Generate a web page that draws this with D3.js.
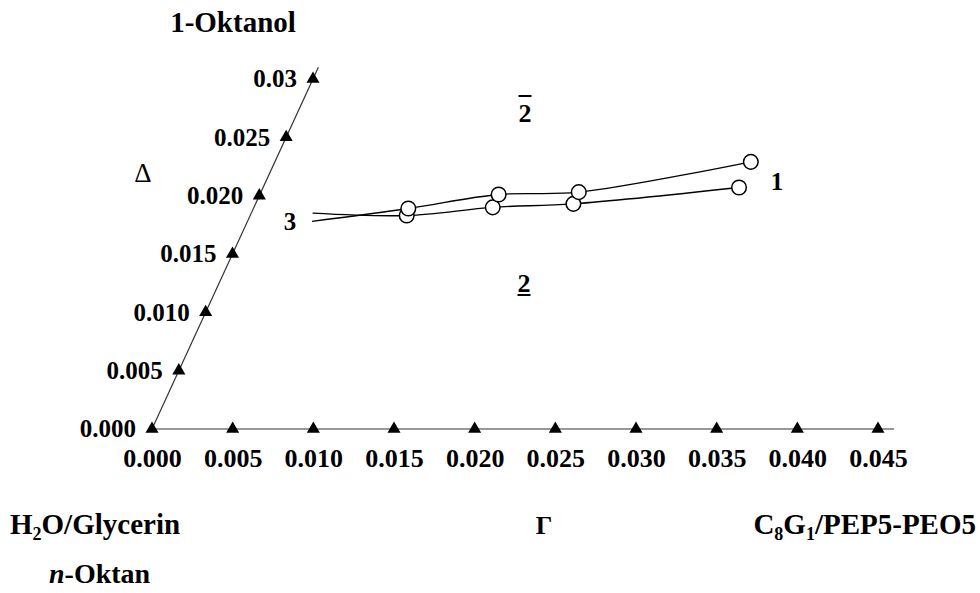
<!DOCTYPE html>
<html>
<head>
<meta charset="utf-8">
<script src="https://cdn.jsdelivr.net/npm/d3@7"></script>
<style>
  html, body { margin: 0; padding: 0; background: #fff; }
  svg text { font-family: "Liberation Serif", "Times New Roman", serif; fill: #000; }
</style>
</head>
<body>
<svg id="chart" width="980" height="593"></svg>
<script>
// Surfactant fraction (Gamma) ticks along the base of the section
const gammaTicks = [0, 0.005, 0.010, 0.015, 0.020, 0.025, 0.030, 0.035, 0.040, 0.045];
const gammaTickLabels = ["0.000", "0.005", "0.010", "0.015", "0.020", "0.025", "0.030", "0.035", "0.040", "0.045"];

// 1-Oktanol fraction (Delta) ticks along the slanted edge
const deltaTicks = [0, 0.005, 0.010, 0.015, 0.020, 0.025, 0.030];
const deltaTickLabels = ["0.000", "0.005", "0.010", "0.015", "0.020", "0.025", "0.03"];

// Upper boundary: measured points and the open end of the curve on the left
const upperGamma = [0.0096, 0.0148, 0.0197, 0.0295];
const upperDelta = [0.0189, 0.0201, 0.0203, 0.0229];
const upperStart = [0.0040, 0.0178];

// Lower boundary
const lowerGamma = [0.0097, 0.0148, 0.0197, 0.0295];
const lowerDelta = [0.0183, 0.0190, 0.0193, 0.0207];
const lowerStart = [0.0038, 0.0185];

const svg = d3.select("#chart");

// Oblique frame: Gamma runs horizontally, Delta runs along a tilted edge.
const x = d3.scaleLinear().domain([0, 0.045]).range([152, 878]);
const y = d3.scaleLinear().domain([0, 0.03]).range([429, 79]);
const skew = d3.scaleLinear().domain([0, 0.03]).range([0, 161]);
const px = (g, d) => x(g) + skew(d);
const py = d => y(d);

const tri = d3.symbol().type(d3.symbolTriangle).size(74);

// Base (Gamma) edge
svg.append("line")
  .attr("x1", px(0, 0)).attr("y1", py(0))
  .attr("x2", px(0.046, 0)).attr("y2", py(0))
  .attr("stroke", "#333").attr("stroke-width", 1.2);

// Slanted (Delta) edge
svg.append("line")
  .attr("x1", px(0, 0)).attr("y1", py(0))
  .attr("x2", px(0, 0.031)).attr("y2", py(0.031))
  .attr("stroke", "#333").attr("stroke-width", 1.2);

// Gamma axis labels from d3.axisBottom, markers as triangles on the edge
const xAxis = d3.axisBottom(x)
  .tickValues(gammaTicks)
  .tickSize(0)
  .tickPadding(0)
  .tickFormat((d, i) => gammaTickLabels[i]);
const gx = svg.append("g").attr("transform", `translate(0, ${py(0)})`).call(xAxis);
gx.select(".domain").remove();
gx.selectAll("text")
  .attr("y", 38).attr("dy", null)
  .style("font-family", "'Liberation Serif', serif")
  .style("font-size", "26px").style("font-weight", "bold").attr("fill", "#000");

svg.append("g").selectAll("path")
  .data(gammaTicks)
  .join("path")
  .attr("d", tri)
  .attr("transform", d => `translate(${px(d, 0)}, ${py(0)})`)
  .attr("fill", "#000");

// Delta axis labels from d3.axisLeft, each tick shifted along the slant
const yAxis = d3.axisLeft(y)
  .tickValues(deltaTicks)
  .tickSize(0)
  .tickPadding(16)
  .tickFormat((d, i) => deltaTickLabels[i]);
const gy = svg.append("g").attr("transform", `translate(${x(0)}, 0)`).call(yAxis);
gy.select(".domain").remove();
gy.selectAll(".tick").attr("transform", d => `translate(${skew(d)}, ${py(d)})`);
gy.selectAll("text")
  .attr("dy", "0.33em")
  .style("font-family", "'Liberation Serif', serif")
  .style("font-size", "25px").style("font-weight", "bold").attr("fill", "#000");

svg.append("g").selectAll("path")
  .data(deltaTicks.slice(1))
  .join("path")
  .attr("d", tri)
  .attr("transform", d => `translate(${px(0, d)}, ${py(d)})`)
  .attr("fill", "#000");

// Phase boundaries
const line = d3.line()
  .x(p => px(p[0], p[1]))
  .y(p => py(p[1]))
  .curve(d3.curveCatmullRom.alpha(0.5));

const upperPts = upperGamma.map((g, i) => [g, upperDelta[i]]);
const lowerPts = lowerGamma.map((g, i) => [g, lowerDelta[i]]);

[[upperStart, ...upperPts], [lowerStart, ...lowerPts]].forEach(pts => {
  svg.append("path")
    .attr("d", line(pts))
    .attr("fill", "none")
    .attr("stroke", "#000")
    .attr("stroke-width", 1.3);
});

svg.append("g").selectAll("circle")
  .data([...lowerPts, ...upperPts])
  .join("circle")
  .attr("cx", p => px(p[0], p[1]))
  .attr("cy", p => py(p[1]))
  .attr("r", 7.3)
  .attr("fill", "#fff")
  .attr("stroke", "#000")
  .attr("stroke-width", 1.5);

// Text helper
function label(txt, xPos, yPos, size, opts = {}) {
  const t = svg.append("text")
    .attr("x", xPos).attr("y", yPos)
    .attr("text-anchor", opts.anchor || "middle")
    .style("font-size", size + "px")
    .style("font-weight", opts.weight || "bold");
  if (opts.italic) t.style("font-style", "italic");
  t.text(txt);
  return t;
}

// Corner components
label("1-Oktanol", 233, 32, 29);

const h2o = svg.append("text").attr("x", 10).attr("y", 534)
  .style("font-size", "29px").style("font-weight", "bold");
h2o.append("tspan").text("H");
h2o.append("tspan").attr("dy", 6).style("font-size", "18px").text("2");
h2o.append("tspan").attr("dy", -6).text("O/Glycerin");

const oct = svg.append("text").attr("x", 49).attr("y", 583)
  .style("font-size", "28px").style("font-weight", "bold");
oct.append("tspan").style("font-style", "italic").text("n");
oct.append("tspan").text("-Oktan");

const surf = svg.append("text").attr("x", 976).attr("y", 534)
  .attr("text-anchor", "end")
  .style("font-size", "29px").style("font-weight", "bold");
surf.append("tspan").text("C");
surf.append("tspan").attr("dy", 6).style("font-size", "18px").text("8");
surf.append("tspan").attr("dy", -6).text("G");
surf.append("tspan").attr("dy", 6).style("font-size", "18px").text("1");
surf.append("tspan").attr("dy", -6).text("/PEP5-PEO5");

// Axis symbols
label("\u0394", 143, 182, 27, { weight: "normal" });
label("\u0393", 544, 534, 26, { weight: "bold" });

// Phase region labels
const over = label("2", 525, 122, 26);
const ob = over.node().getBBox();
svg.append("line")
  .attr("x1", ob.x).attr("x2", ob.x + ob.width)
  .attr("y1", 96).attr("y2", 96)
  .attr("stroke", "#000").attr("stroke-width", 2);

const under = label("2", 524, 292, 26);
const ub = under.node().getBBox();
svg.append("line")
  .attr("x1", ub.x).attr("x2", ub.x + ub.width)
  .attr("y1", 295).attr("y2", 295)
  .attr("stroke", "#000").attr("stroke-width", 2);

label("1", 777, 190, 25);
label("3", 290, 230, 25);
</script>
</body>
</html>
